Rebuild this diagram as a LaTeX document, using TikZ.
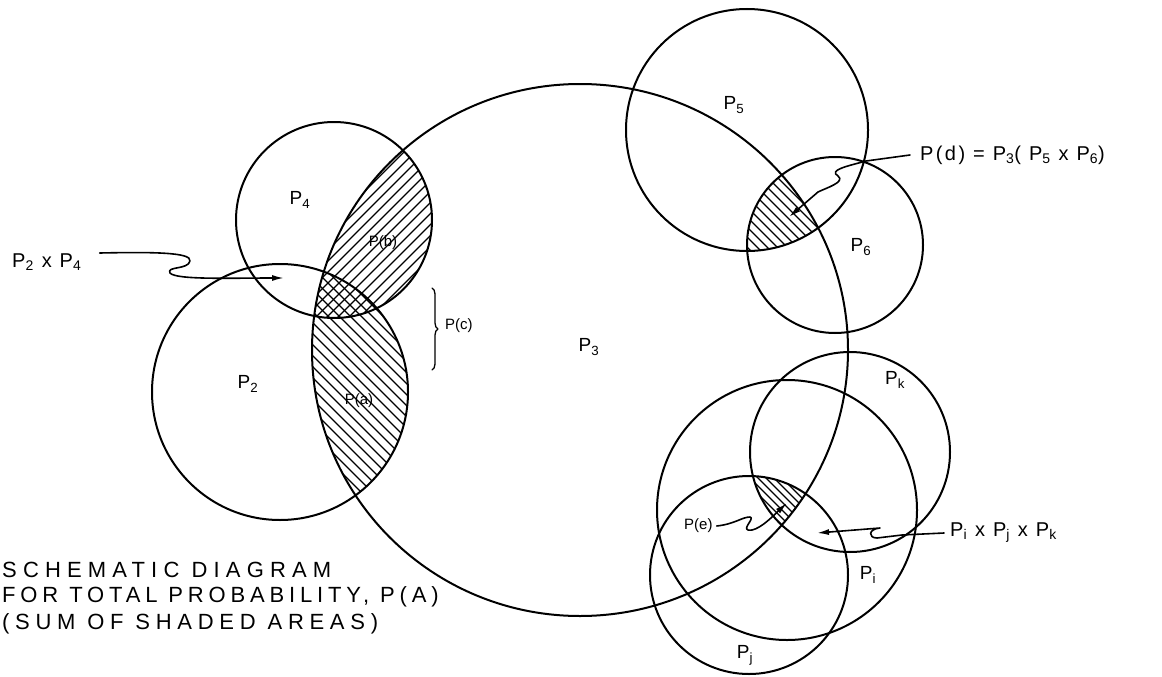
\documentclass[tikz,border=0pt]{standalone}
\usepackage{fontspec}
\setmainfont{Liberation Sans}
\newfontfamily\lettering{Liberation Sans}
\newfontfamily\spaced[LetterSpace=12]{Liberation Sans}
\usetikzlibrary{arrows.meta,decorations.pathreplacing}
\begin{document}
\begin{tikzpicture}[x=1pt,y=-1pt,line cap=round,line join=round,
  ring/.style={draw=black,line width=2pt},
  hatch/.style={line width=1.2pt},
  lbl/.style={font=\fontsize{19}{22}\selectfont,inner sep=0pt},
  note/.style={font=\fontsize{20}{23}\selectfont\spaced,inner sep=0pt,anchor=west},
  small/.style={font=\fontsize{15}{17}\selectfont,inner sep=0pt},
  pointer/.style={draw,line width=1.6pt,-{Latex[length=12pt,width=6pt]}},
  title/.style={font=\fontsize{22}{26}\selectfont\lettering,inner sep=0pt,anchor=west}]
\useasboundingbox (0,0) rectangle (1162,677);

% ---- hatching P(b): P4 and P3
\begin{scope}
  \clip (334,220) circle (98);
  \clip (580,350) ellipse [x radius=268, y radius=266];
  \foreach \k in {90,101,...,310} \draw[hatch] (\k,400) -- ++(400,-400);
\end{scope}
% ---- hatching P(a): P2 and P3
\begin{scope}
  \clip (280,392) circle (128);
  \clip (580,350) ellipse [x radius=268, y radius=266];
  \foreach \k in {-230,-219,...,170} \draw[hatch] (\k,0) -- ++(600,600);
\end{scope}
% ---- hatching P(d): P5, P6 and P3
\begin{scope}
  \clip (747,130) circle (121);
  \clip (835,245) circle (88);
  \clip (580,350) ellipse [x radius=268, y radius=266];
  \foreach \k in {480,490,...,670} \draw[hatch] (\k,0) -- ++(400,400);
\end{scope}
% ---- hatching P(e): Pi, Pj, Pk and P3
\begin{scope}
  \clip (787,510) circle (130);
  \clip (749,575) circle (99);
  \clip (850,452) circle (100);
  \clip (580,350) ellipse [x radius=268, y radius=266];
  \foreach \k in {200,208,...,350} \draw[hatch] (\k,0) -- ++(700,700);
\end{scope}

% ---- circles
\draw[ring] (580,350) ellipse [x radius=268, y radius=266];
\draw[ring] (280,392) circle (128);
\draw[ring] (334,220) circle (98);
\draw[ring] (747,130) circle (121);
\draw[ring] (835,245) circle (88);
\draw[ring] (850,452) circle (100);
\draw[ring] (787,510) circle (130);
\draw[ring] (749,575) circle (99);

% ---- region labels
\node[lbl] (lp4) at (300,200) {P\textsubscript{4}};
\node[lbl] (lp2) at (248,384) {P\textsubscript{2}};
\node[lbl] (lp3) at (589,347) {P\textsubscript{3}};
\node[lbl] (lp5) at (734,105) {P\textsubscript{5}};
\node[lbl] (lp6) at (861,247) {P\textsubscript{6}};
\node[lbl] (lpk) at (895,380) {P\textsubscript{k}};
\node[lbl] (lpi) at (868,575) {P\textsubscript{i}};
\node[lbl] (lpj) at (745,655) {P\textsubscript{j}};
\node[small] (lpb) at (383,243) {P(b)};
\node[small] (lpa) at (359,401) {P(a)};
\node[small,anchor=west] (lpc) at (445,326) {P(c)};
\draw[line width=1.3pt,decorate,decoration={brace,amplitude=6pt}] (432,288) -- (432,370);

% ---- P2 x P4
\node[note] (p24) at (12,262) {P\textsubscript{2} x P\textsubscript{4}};
\coordinate (t24) at (284,278);
\draw[pointer] ([xshift=18pt,yshift=9pt]p24.east) .. controls (150,252) and (192,252) .. (190,261)
  .. controls (188,270) and (166,266) .. (170,273) .. controls (176,280) and (230,278) .. (t24);

% ---- P(d)
\node[note] (pd) at (920,155) {P(d) = P\textsubscript{3}( P\textsubscript{5} x P\textsubscript{6})};
\coordinate (td) at (789,217);
\draw[pointer] ([xshift=-10pt]pd.west) -- (866,161) .. controls (848,166) and (828,170) .. (838,176)
  .. controls (846,182) and (826,188) .. (818,192) -- (td);

% ---- P(e)
\node[small,anchor=west] (pe) at (684,526) {P(e)};
\coordinate (te) at (787,503);
\draw[pointer] ([xshift=4pt]pe.east) .. controls (735,524) and (742,517) .. (750,517)
  .. controls (756,518) and (738,532) .. (752,530) .. controls (762,528) and (775,514) .. (te);

% ---- Pi x Pj x Pk
\node[note] (pijk) at (950,533) {P\textsubscript{i} x P\textsubscript{j} x P\textsubscript{k}};
\coordinate (tijk) at (817,533);
\draw[pointer] ([xshift=-6pt]pijk.west) -- (902,535) -- (877,538) .. controls (868,538) and (868,529) .. (880,528)
  -- (tijk);

% ---- caption
\node[title] (cap1) at (2,570) {\addfontfeature{LetterSpace=28}SCHEMATIC DIAGRAM};
\node[title] (cap2) at (2,597) {\addfontfeature{LetterSpace=22}FOR TOTAL PROBABILITY, P(A)};
\node[title] (cap3) at (2,624) {\addfontfeature{LetterSpace=26}(SUM OF SHADED AREAS)};
\end{tikzpicture}
\end{document}
